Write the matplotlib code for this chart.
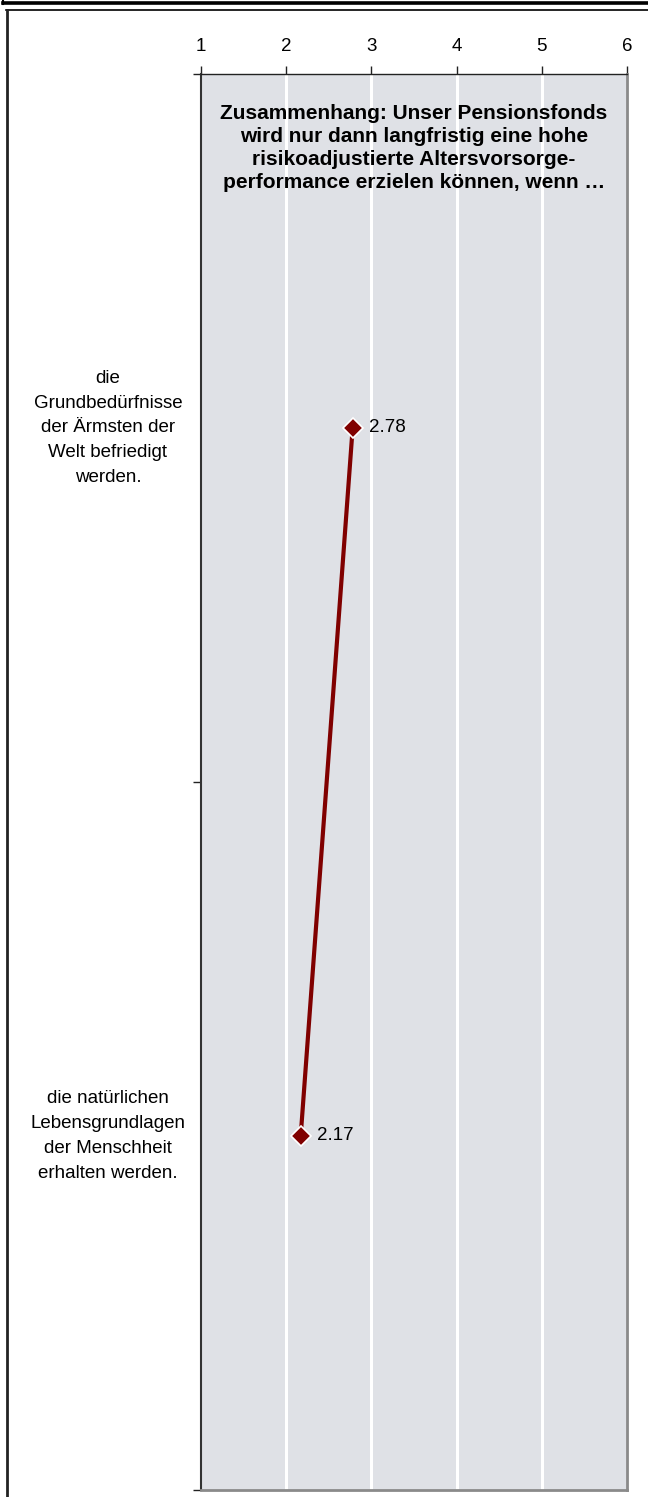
import matplotlib
matplotlib.use("Agg")
import matplotlib.pyplot as plt
from matplotlib.lines import Line2D

plt.rcParams['font.family'] = ['Liberation Sans', 'DejaVu Sans']

# Survey statements (answer to "… wenn …") and their mean scores
categories = [
    "die\nGrundbedürfnisse\nder Ärmsten der\nWelt befriedigt\nwerden.",
    "die natürlichen\nLebensgrundlagen\nder Menschheit\nerhalten werden.",
]
values = [2.78, 2.17]
x_ticks = [1, 2, 3, 4, 5, 6]
title_text = ("Zusammenhang: Unser Pensionsfonds\n"
              "wird nur dann langfristig eine hohe\n"
              "risikoadjustierte Altersvorsorge-\n"
              "performance erzielen können, wenn …")

W, H = 648, 1497
fig = plt.figure(figsize=(W / 100, H / 100), dpi=100)

# plot area in pixel coordinates
left_px, right_px, top_px, bottom_px = 201, 627, 74, 1490
ax = fig.add_axes([left_px / W, 1 - bottom_px / H,
                   (right_px - left_px) / W, (bottom_px - top_px) / H])

ax.set_facecolor('#dfe1e6')
ax.set_xlim(x_ticks[0], x_ticks[-1])
n = len(categories)
ax.set_ylim(n, 0)
ypos = [i + 0.5 for i in range(n)]

# vertical white gridlines
for xv in x_ticks[1:-1]:
    ax.axvline(xv, color='white', lw=2.2, zorder=1)

ax.plot(values, ypos, color='#800000', lw=3, zorder=3, solid_capstyle='butt')
ax.plot(values, ypos, linestyle='none', marker='D', markersize=10.5,
        markerfacecolor='#800000', markeredgecolor='white',
        markeredgewidth=1.2, zorder=4)
for v, y in zip(values, ypos):
    ax.annotate(f"{v:.2f}", xy=(v, y), xytext=(11.5, 0), textcoords='offset points',
                ha='left', va='center', fontsize=13.5, color='black', zorder=5)

# axes: values on top, category boundaries on left
ax.xaxis.tick_top()
ax.set_xticks(x_ticks)
ax.set_xticklabels([str(t) for t in x_ticks])
ax.tick_params(axis='x', direction='out', length=6, width=1, colors='#222222',
               labelcolor='black', labelsize=13.5, pad=8)
ax.set_yticks(range(n + 1))
ax.set_yticklabels([])
ax.tick_params(axis='y', direction='out', length=6, width=1, colors='#222222')

ax.spines['top'].set_color('#222222')
ax.spines['top'].set_linewidth(1)
ax.spines['left'].set_color('#333333')
ax.spines['left'].set_linewidth(1.5)
ax.spines['right'].set_color('#8a8a8a')
ax.spines['right'].set_linewidth(2)
ax.spines['bottom'].set_color('#8a8a8a')
ax.spines['bottom'].set_linewidth(2)

title_center_px = 148
ax.text(0.5, 1 - (title_center_px - top_px) / (bottom_px - top_px), title_text,
        transform=ax.transAxes, ha='center', va='center', fontsize=15,
        fontweight='bold', linespacing=1.25, color='black', zorder=5)

# category labels to the left of the plot
for lab, y in zip(categories, ypos):
    y_px = top_px + (bottom_px - top_px) * y / n
    fig.text(108 / W, 1 - y_px / H, lab, ha='center', va='center',
             fontsize=13.5, linespacing=1.6, color='black')

# surrounding frame lines
def fig_line(xs, ys, lw, color):
    fig.add_artist(Line2D([x / W for x in xs], [1 - y / H for y in ys],
                          lw=lw, color=color, transform=fig.transFigure))

fig_line([3, W], [2.5, 2.5], 2.6, 'black')
fig_line([3, 3], [0, 3.5], 1.5, 'black')
fig_line([6, W], [10, 10], 1.2, 'black')
fig_line([6.5, 6.5], [10, H], 2, '#222222')

fig.savefig('out.png', dpi=100)
